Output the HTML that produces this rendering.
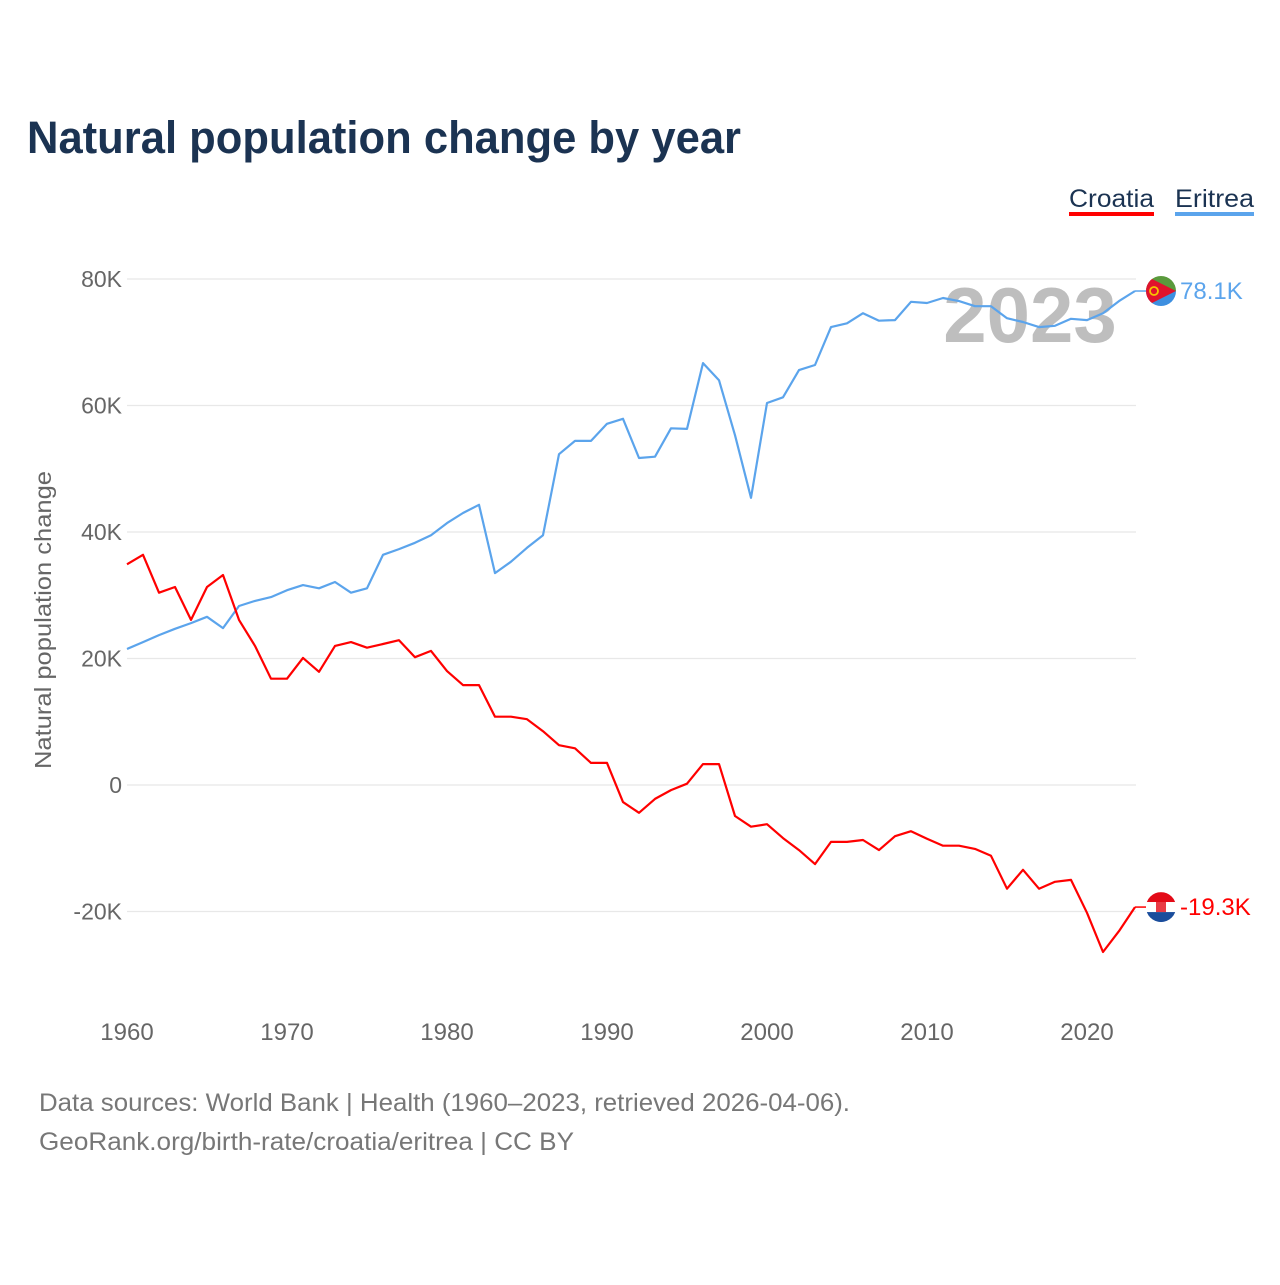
<!DOCTYPE html>
<html><head><meta charset="utf-8">
<style>
html,body{margin:0;padding:0;background:#fff;}
body{width:1280px;height:1280px;position:relative;font-family:"Liberation Sans",sans-serif;overflow:hidden;}
svg text{font-family:"Liberation Sans",sans-serif;}
</style></head>
<body>
<svg id="chart" width="1280" height="1280" viewBox="0 0 1280 1280">
  <text x="27" y="153" font-size="45" font-weight="bold" fill="#1b3352" textLength="714" lengthAdjust="spacingAndGlyphs">Natural population change by year</text>
  <g>
    <text x="1069" y="207" font-size="25" fill="#1b3352" textLength="85" lengthAdjust="spacingAndGlyphs">Croatia</text>
    <rect x="1069" y="212" width="85" height="4" fill="#ff0000"/>
    <text x="1175" y="207" font-size="25" fill="#1b3352" textLength="79" lengthAdjust="spacingAndGlyphs">Eritrea</text>
    <rect x="1175" y="212" width="79" height="4" fill="#5ba4ec"/>
  </g>
  <g id="grid"></g>
  <g id="yticks"></g>
  <g id="xticks"></g>
  <text transform="translate(51,620) rotate(-90)" text-anchor="middle" font-size="23" fill="#666" textLength="298" lengthAdjust="spacingAndGlyphs">Natural population change</text>
  <text x="1030" y="342" text-anchor="middle" font-size="78" font-weight="bold" fill="#b8b8b8" opacity="0.9">2023</text>
  <g id="series"></g>
  <text x="39" y="1111" font-size="25" fill="#777" textLength="811" lengthAdjust="spacingAndGlyphs">Data sources: World Bank | Health (1960–2023, retrieved 2026-04-06).</text>
  <text x="39" y="1150" font-size="25" fill="#777" textLength="535" lengthAdjust="spacingAndGlyphs">GeoRank.org/birth-rate/croatia/eritrea | CC BY</text>
</svg>
<script>
const startYear = 1960;
const croatia = [34.9,36.4,30.4,31.3,26.1,31.3,33.2,26.1,22.0,16.8,16.8,20.1,17.9,22.0,22.6,21.7,22.3,22.9,20.2,21.2,18.0,15.8,15.8,10.8,10.8,10.4,8.5,6.3,5.8,3.5,3.5,-2.7,-4.4,-2.2,-0.8,0.2,3.3,3.3,-4.9,-6.6,-6.2,-8.4,-10.3,-12.5,-9.0,-9.0,-8.7,-10.3,-8.1,-7.3,-8.5,-9.6,-9.6,-10.1,-11.2,-16.4,-13.4,-16.4,-15.3,-15.0,-20.2,-26.4,-23.1,-19.3];
const eritrea = [21.5,22.6,23.7,24.7,25.6,26.6,24.8,28.3,29.1,29.7,30.8,31.6,31.1,32.1,30.4,31.1,36.4,37.3,38.3,39.5,41.4,43.0,44.3,33.5,35.3,37.5,39.5,52.3,54.4,54.4,57.1,57.9,51.7,51.9,56.4,56.3,66.7,64.0,55.3,45.4,60.4,61.3,65.6,66.4,72.4,73.0,74.6,73.4,73.5,76.4,76.2,77.0,76.5,75.7,75.7,73.8,73.2,72.4,72.6,73.7,73.5,74.6,76.5,78.1];
const yTickValues = [-20,0,20,40,60,80];
const yTickLabels = ["-20K","0","20K","40K","60K","80K"];
const xTickYears = [1960,1970,1980,1990,2000,2010,2020];
const endLabels = ["-19.3K","78.1K"];

const NS="http://www.w3.org/2000/svg";
const x = yr => 127 + (yr-1960)*16;
const y = v => 785 - v*6.325;
function mk(tag, attrs, parent){const e=document.createElementNS(NS,tag);for(const k in attrs)e.setAttribute(k,attrs[k]);parent.appendChild(e);return e;}
const grid=document.getElementById('grid'), yt=document.getElementById('yticks'), xt=document.getElementById('xticks'), ser=document.getElementById('series');
yTickValues.forEach((v,i)=>{
  const l=mk('line',{x1:127,x2:1136,y1:y(v),y2:y(v),stroke:'#e8e8e8','stroke-width':1.2},grid);
  
  
  const t=mk('text',{x:122,y:y(v)+8,'text-anchor':'end','font-size':23,fill:'#666'},yt);
  t.textContent=yTickLabels[i];
  
  
});
xTickYears.forEach(yr=>{
  const t=mk('text',{x:x(yr),y:1040,'text-anchor':'middle','font-size':24,fill:'#666'},xt);
  t.textContent=yr;
  
  
});
function drawSeries(data,color,name,label){
  const pts=data.map((v,i)=>x(startYear+i).toFixed(1)+','+y(v).toFixed(1)).join(' ');
  const p=mk('polyline',{points:pts,fill:'none',stroke:color,'stroke-width':2.2,'stroke-linejoin':'round'},ser);
  
  
  const lx=x(startYear+data.length-1), ly=y(data[data.length-1]);
  const c=mk('line',{x1:lx,x2:1146,y1:ly,y2:ly,stroke:color,'stroke-width':1.5},ser);
  
  
  const g=mk('g',{},ser);
  
  
  const cp=mk('clipPath',{id:'clip-'+name},g);
  mk('circle',{cx:1161,cy:ly,r:15},cp);
  const fg=mk('g',{'clip-path':'url(#clip-'+name+')'},g);
  if(name==='croatia'){
    mk('rect',{x:1146,y:ly-15,width:30,height:10,fill:'#e30a17'},fg);
    mk('rect',{x:1146,y:ly-5,width:30,height:10,fill:'#fff'},fg);
    mk('rect',{x:1146,y:ly+5,width:30,height:10,fill:'#1a4d9c'},fg);
    mk('rect',{x:1156,y:ly-6,width:10,height:11,fill:'#e30a17',opacity:0.8},fg);
  } else {
    mk('rect',{x:1146,y:ly-15,width:30,height:15,fill:'#5a9a3c'},fg);
    mk('rect',{x:1146,y:ly,width:30,height:15,fill:'#3d8fe0'},fg);
    mk('polygon',{points:`1146,${ly-15} 1176,${ly} 1146,${ly+15}`,fill:'#e0132d'},fg);
    mk('circle',{cx:1154,cy:ly,r:4,fill:'none',stroke:'#f5c400','stroke-width':1.8},fg);
  }
  const t=mk('text',{x:1180,y:ly+8,'font-size':24,fill:color},ser);
  t.textContent=label;
  
  
}
drawSeries(eritrea,'#5ba4ec','eritrea',endLabels[1]);
drawSeries(croatia,'#ff0000','croatia',endLabels[0]);
</script>
</body></html>
